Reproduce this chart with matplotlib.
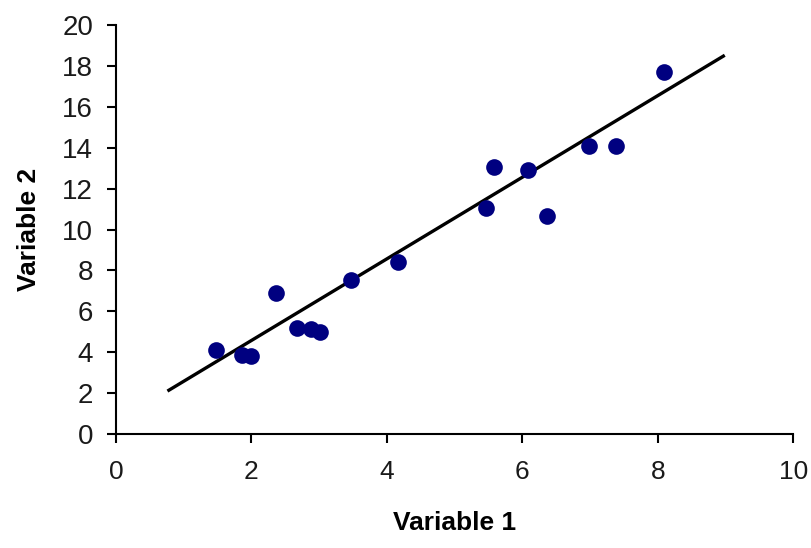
import numpy as np
import matplotlib.pyplot as plt

# scatter data
var1 = [1.48, 1.86, 1.99, 2.37, 2.67, 2.88, 3.01, 3.47, 4.17,
        5.46, 5.58, 6.09, 6.37, 6.99, 7.39, 8.09]
var2 = [4.1, 3.86, 3.8, 6.9, 5.18, 5.13, 4.99, 7.53, 8.41,
        11.05, 13.06, 12.9, 10.66, 14.08, 14.08, 17.7]

# trend line end points
trend_x = [0.76, 8.99]
trend_y = [2.1, 18.53]

x_ticks = [0, 2, 4, 6, 8, 10]
y_ticks = [0, 2, 4, 6, 8, 10, 12, 14, 16, 18, 20]

plt.rcParams['font.family'] = ['Liberation Sans', 'DejaVu Sans']

fig = plt.figure(figsize=(8.11, 5.48), dpi=100)
ax = fig.add_axes([0.143, 0.208, 0.835, 0.746])

ax.plot(trend_x, trend_y, color='black', linewidth=2.4, solid_capstyle='butt', zorder=2)
ax.plot(var1, var2, 'o', color='#000080', markersize=12, markeredgewidth=0, zorder=3)

ax.set_xlim(0, 10)
ax.set_ylim(0, 20)
ax.set_xticks(x_ticks)
ax.set_yticks(y_ticks)

for side in ['top', 'right']:
    ax.spines[side].set_visible(False)
for side in ['left', 'bottom']:
    ax.spines[side].set_linewidth(1.5)

ax.tick_params(axis='x', direction='out', length=6.5, width=1.5, labelsize=19, pad=12, labelcolor='#1a1a1a')
ax.tick_params(axis='y', direction='out', length=6.5, width=1.5, labelsize=20, pad=10, labelcolor='#1a1a1a')

ax.set_xlabel('Variable 1', fontsize=19, fontweight='bold', labelpad=20)
ax.set_ylabel('Variable 2', fontsize=19, fontweight='bold', labelpad=15)

fig.savefig('out.png', dpi=100)
